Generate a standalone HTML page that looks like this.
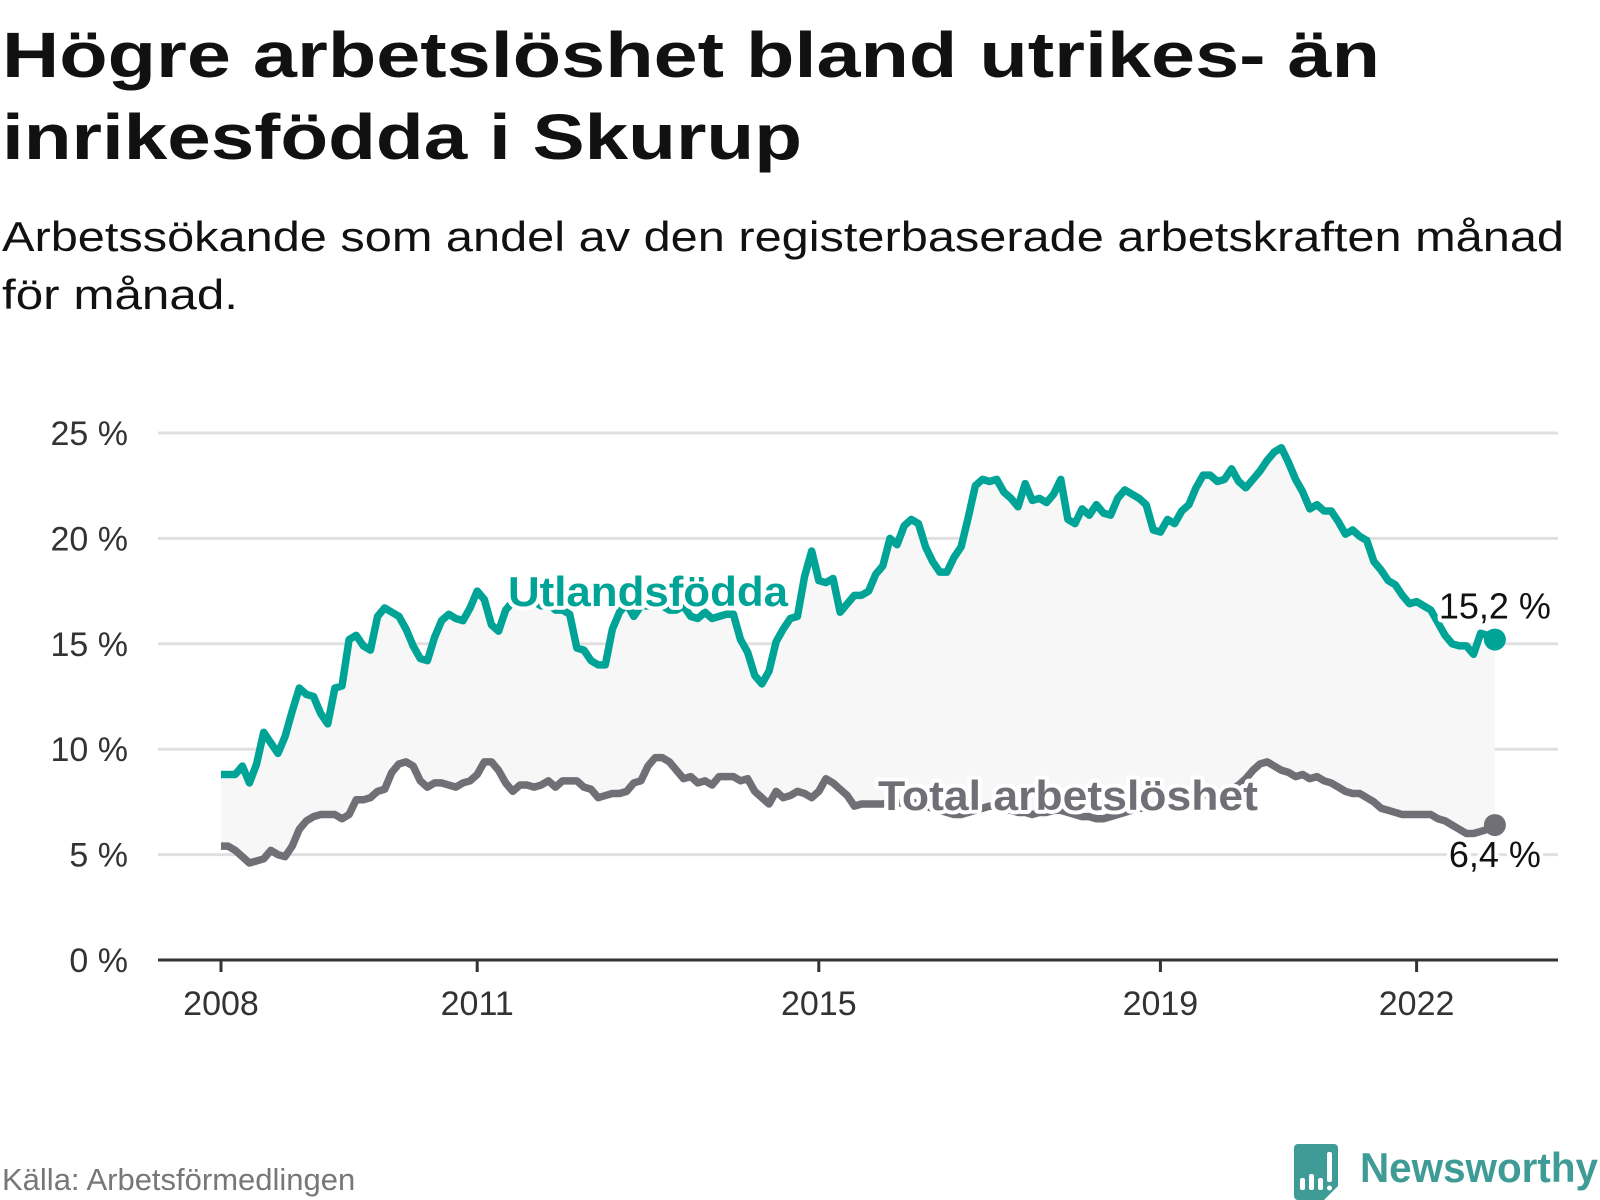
<!DOCTYPE html>
<html><head><meta charset="utf-8"><style>
html,body{margin:0;padding:0;background:#fff;}
svg{display:block;font-family:"Liberation Sans",sans-serif;}
</style></head><body>
<svg id="chart" width="1600" height="1200" viewBox="0 0 1600 1200">
<text x="2" y="77" font-size="64" font-weight="bold" fill="#111" textLength="1378" lengthAdjust="spacingAndGlyphs">Högre arbetslöshet bland utrikes- än</text>
<text x="2" y="159" font-size="64" font-weight="bold" fill="#111" textLength="800" lengthAdjust="spacingAndGlyphs">inrikesfödda i Skurup</text>
<text x="2" y="251" font-size="42" fill="#111" textLength="1562" lengthAdjust="spacingAndGlyphs">Arbetssökande som andel av den registerbaserade arbetskraften månad</text>
<text x="2" y="309" font-size="42" fill="#111" textLength="236" lengthAdjust="spacingAndGlyphs">för månad.</text>
<g id="grid"></g>
<path id="area" fill="#f7f7f7"></path>
<g id="lines"></g>
<g id="labels"></g>
<text x="2" y="1190" font-size="31" fill="#777">Källa: Arbetsförmedlingen</text>
<g>
<path d="M1294 1144 h40 a4 4 0 0 1 4 4 v38 l-14 14 h-26 a4 4 0 0 1 -4 -4 v-48 a4 4 0 0 1 4 -4z" fill="#3e9b95"/>
<rect x="1300" y="1178" width="5" height="12" rx="2" fill="#fff"/>
<rect x="1309" y="1174" width="5" height="16" rx="2" fill="#fff"/>
<rect x="1318" y="1178" width="5" height="12" rx="2" fill="#fff"/>
<rect x="1327" y="1152" width="5" height="30" rx="2" fill="#fff"/>
<circle cx="1329.5" cy="1188" r="2.5" fill="#fff"/>
<text x="1360" y="1182" font-size="42" font-weight="bold" fill="#3e9b95" textLength="238" lengthAdjust="spacingAndGlyphs">Newsworthy</text>
</g>
</svg>
<script>
const yTicks=[0,5,10,15,20,25];
const yTickLabels=["0 %","5 %","10 %","15 %","20 %","25 %"];
const xTickYears=[2008,2011,2015,2019,2022];
const startYear=2008;
const foreign=[
8.8,8.8,8.8,9.2,8.4,9.3,10.8,10.3,9.8,10.6,11.8,12.9,
12.6,12.5,11.7,11.2,12.9,13.0,15.2,15.4,14.9,14.7,16.3,16.7,
16.5,16.3,15.7,14.9,14.3,14.2,15.3,16.1,16.4,16.2,16.1,16.7,
17.5,17.1,15.9,15.6,16.6,17.0,17.0,16.9,17.0,16.8,16.9,16.6,
16.6,16.4,14.8,14.7,14.2,14.0,14.0,15.7,16.5,16.9,16.3,16.8,
16.8,16.9,16.8,16.6,16.6,16.8,16.3,16.2,16.5,16.2,16.3,16.4,
16.4,15.2,14.6,13.5,13.1,13.7,15.1,15.7,16.2,16.3,18.2,19.4,
18.0,17.9,18.1,16.5,16.9,17.3,17.3,17.5,18.3,18.7,20.0,19.7,
20.6,20.9,20.7,19.6,18.9,18.4,18.4,19.1,19.6,21.0,22.5,22.8,
22.7,22.8,22.2,21.9,21.5,22.6,21.8,21.9,21.7,22.1,22.8,20.9,
20.7,21.4,21.1,21.6,21.2,21.1,21.9,22.3,22.1,21.9,21.6,20.4,
20.3,20.9,20.7,21.3,21.6,22.4,23.0,23.0,22.7,22.8,23.3,22.7,
22.4,22.8,23.2,23.7,24.1,24.3,23.6,22.8,22.2,21.4,21.6,21.3,
21.3,20.8,20.2,20.4,20.1,19.9,18.9,18.5,18.0,17.8,17.3,16.9,
17.0,16.8,16.6,16.0,15.4,15.0,14.9,14.9,14.5,15.5,15.4,15.2];
const total=[
5.4,5.4,5.2,4.9,4.6,4.7,4.8,5.2,5.0,4.9,5.4,6.2,
6.6,6.8,6.9,6.9,6.9,6.7,6.9,7.6,7.6,7.7,8.0,8.1,
8.9,9.3,9.4,9.2,8.5,8.2,8.4,8.4,8.3,8.2,8.4,8.5,
8.8,9.4,9.4,9.0,8.4,8.0,8.3,8.3,8.2,8.3,8.5,8.2,
8.5,8.5,8.5,8.2,8.1,7.7,7.8,7.9,7.9,8.0,8.4,8.5,
9.2,9.6,9.6,9.4,9.0,8.6,8.7,8.4,8.5,8.3,8.7,8.7,
8.7,8.5,8.6,8.0,7.7,7.4,8.0,7.7,7.8,8.0,7.9,7.7,
8.0,8.6,8.4,8.1,7.8,7.3,7.4,7.4,7.4,7.4,7.5,7.5,
7.4,7.5,7.4,7.3,7.2,7.1,7.0,6.9,6.9,7.0,7.1,7.2,
7.3,7.3,7.2,7.1,7.0,7.0,6.9,7.0,7.0,7.1,7.1,7.0,
6.9,6.8,6.8,6.7,6.7,6.8,6.9,7.0,7.1,7.2,7.2,7.3,
7.4,7.5,7.5,7.6,7.6,7.7,7.8,7.9,7.9,8.0,8.1,8.3,
8.6,9.0,9.3,9.4,9.2,9.0,8.9,8.7,8.8,8.6,8.7,8.5,
8.4,8.2,8.0,7.9,7.9,7.7,7.5,7.2,7.1,7.0,6.9,6.9,
6.9,6.9,6.9,6.7,6.6,6.4,6.2,6.0,6.0,6.1,6.2,6.4];
const NS="http://www.w3.org/2000/svg";
const X0=221,PXY=85.4,Y0=960,PXV=21.08,L=158,R=1558;
function xs(i){return X0+PXY*i/12;}
function ys(v){return Y0-PXV*v;}
function mk(tag,attrs,parent){const e=document.createElementNS(NS,tag);for(const k in attrs)e.setAttribute(k,attrs[k]);parent.appendChild(e);return e;}
const grid=document.getElementById('grid');
yTicks.forEach((t,i)=>{
 if(t>0){const g=mk('line',{x1:L,x2:R,y1:ys(t),y2:ys(t),stroke:'#e0e0e0','stroke-width':3},grid);
 
 }
 const tx=mk('text',{x:128,y:ys(t)+12,'text-anchor':'end','font-size':34,fill:'#333'},grid);
 tx.textContent=yTickLabels[i];
 
 
});
const ax=mk('line',{x1:L,x2:R,y1:Y0,y2:Y0,stroke:'#333','stroke-width':3},grid);


xTickYears.forEach(yr=>{
 const x=xs((yr-startYear)*12);
 const tk=mk('line',{x1:x,x2:x,y1:Y0,y2:Y0+12,stroke:'#333','stroke-width':3},grid);
 
 
 const tx=mk('text',{x:x,y:1015,'text-anchor':'middle','font-size':34,fill:'#333'},grid);
 tx.textContent=yr;
 
 
});
const topPts=foreign.map((v,i)=>xs(i)+','+ys(v));
const botPts=total.map((v,i)=>xs(i)+','+ys(v)).reverse();
document.getElementById('area').setAttribute('d','M'+topPts.join('L')+'L'+botPts.join('L')+'Z');
const lines=document.getElementById('lines');
function line(data,color,name){
 const p=mk('polyline',{points:data.map((v,i)=>xs(i)+','+ys(v)).join(' '),fill:'none',stroke:color,'stroke-width':7.5,'stroke-linejoin':'round'},lines);
 
 
 const n=data.length-1;
 const c=mk('circle',{cx:xs(n),cy:ys(data[n]),r:11,fill:color},lines);
 
 
}
line(total,'#706f75','total-line');
line(foreign,'#00a497','foreign-line');
const lab=document.getElementById('labels');
function label(txt,x,y,color,size,bold,name,anchor,len){
 const t=mk('text',{x:x,y:y,'font-size':size,'font-weight':bold?'bold':'normal',fill:color,stroke:'#fff','stroke-width':8,'paint-order':'stroke','stroke-linejoin':'round','text-anchor':anchor||'start'},lab);
 if(len){t.setAttribute('textLength',len);t.setAttribute('lengthAdjust','spacingAndGlyphs');}
 t.textContent=txt;
 
 
}
label('Utlandsfödda',508,606,'#00a497',42,true,'foreign-series-label','start',280);
label('Total arbetslöshet',878,810,'#706f75',42,true,'total-series-label','start',380);
const nf=foreign.length-1;
label(String(foreign[nf]).replace('.',',')+' %',xs(nf),ys(foreign[nf])-21,'#111',36,false,'foreign-end-value','middle');
label(String(total[nf]).replace('.',',')+' %',xs(nf),ys(total[nf])+42,'#111',36,false,'total-end-value','middle');
</script>
</body></html>
